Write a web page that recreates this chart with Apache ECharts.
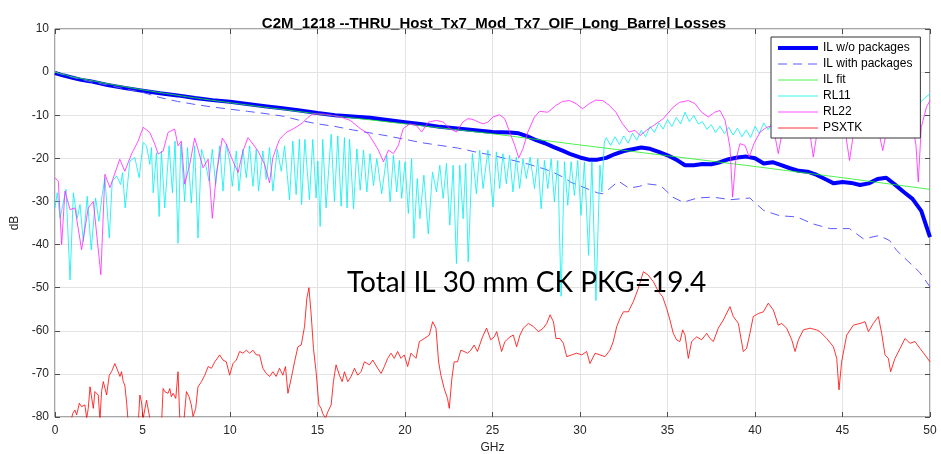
<!DOCTYPE html>
<html>
<head>
<meta charset="utf-8">
<script src="https://cdn.jsdelivr.net/npm/echarts@6/dist/echarts.min.js"></script>
<style>
  html, body { margin: 0; padding: 0; background: #fff; }
  #chart { width: 941px; height: 454px; }
</style>
</head>
<body>
<div id="chart"></div>
<script>
const titleText = 'C2M_1218 --THRU_Host_Tx7_Mod_Tx7_OIF_Long_Barrel Losses'
const noteText = 'Total IL 30 mm CK PKG=19.4'
const seriesNames = ['IL w/o packages', 'IL with packages', 'IL fit', 'RL11', 'RL22', 'PSXTK']

// [GHz, dB]
const ilNoPkg = [
  [0, -0.2], [0.5, -0.8], [1, -1.3], [1.5, -1.8], [2, -2.1], [3, -3.0], [4, -3.7], [5, -4.3],
  [6, -4.9], [7, -5.4], [8, -6.0], [9, -6.5], [10, -6.9], [11, -7.4], [12, -7.9], [13, -8.4],
  [14, -8.9], [15, -9.5], [16, -10.0], [17, -10.3], [18, -10.6], [19, -11.1], [20, -11.6],
  [21, -12.1], [22, -12.7], [23, -13.1], [24, -13.5], [25, -13.9], [26, -14.0], [26.5, -14.2],
  [27, -14.9], [27.5, -15.8], [28, -16.5], [28.5, -17.4], [29, -18.2], [29.5, -19.1], [30, -19.8],
  [30.5, -20.3], [31, -20.3], [31.5, -19.9], [32, -19.0], [32.5, -18.3], [33, -17.9], [33.5, -17.5],
  [34, -17.8], [34.5, -18.5], [35, -19.3], [35.5, -20.3], [36, -21.6], [36.5, -21.6], [37, -21.3],
  [37.5, -21.4], [38, -20.9], [38.5, -20.2], [39, -19.8], [39.5, -19.6], [40, -20.0], [40.5, -21.2],
  [41, -20.9], [41.5, -21.6], [42, -22.3], [42.5, -22.9], [43, -23.1], [43.5, -23.8], [44, -24.8],
  [44.5, -25.8], [45, -25.5], [45.5, -25.7], [46, -26.2], [46.5, -25.8], [47, -24.8], [47.5, -24.5],
  [48, -26.1], [48.5, -27.8], [49, -29.4], [49.5, -32.2], [50, -38.3]
]

const ilPkg = [
  [0, 0], [1, -1.2], [2, -2.2], [3, -3.0], [4, -3.9], [5, -4.7], [6, -5.9], [7, -6.8], [8, -7.5],
  [9, -8.1], [10, -8.6], [11, -9.1], [12, -9.6], [13, -10.2], [14, -11.2], [15, -12.0], [16, -12.6],
  [17, -13.4], [18, -14.1], [19, -14.8], [20, -15.6], [21, -16.4], [22, -17.0], [23, -17.6],
  [24, -18.5], [25, -19.3], [26, -20.3], [27, -21.3], [28, -22.5], [28.5, -23.3], [29, -24.3],
  [29.5, -25.6], [30, -26.4], [30.5, -27.2], [31, -28.0], [31.3, -28.2], [31.7, -27.0], [32.2, -25.3],
  [32.8, -26.9], [33.4, -26.5], [33.8, -25.9], [34.6, -26.3], [35.3, -29.0], [35.9, -30.2],
  [36.7, -29.2], [37.6, -29.0], [38.6, -29.6], [39.7, -29.2], [40.5, -32.1], [41.4, -33.3],
  [42.4, -33.6], [43.3, -35.2], [44.3, -36.3], [45.4, -36.3], [46.2, -38.7], [47.1, -37.9],
  [47.7, -39.1], [48.1, -41.4], [48.7, -43.7], [49.4, -46.4], [50, -49.8]
]

const ilFit = [
  [0, 0], [1, -1.1], [2, -1.9], [3, -2.7], [5, -4.1], [7.5, -5.7], [10, -7.1], [15, -9.7],
  [20, -12.0], [25, -14.3], [30, -16.9], [35, -19.4], [40, -21.9], [45, -24.5], [50, -27.2]
]

const rl11 = [
  [0, -31.5], [0.13, -28], [0.29, -33.9], [0.63, -27.2], [0.86, -48.2], [1.05, -28], [1.27, -33.9],
  [1.43, -30.7], [1.62, -39.3], [1.84, -28.8], [2.07, -41.2], [2.32, -29.2], [2.51, -34.6],
  [2.7, -28.4], [2.85, -24.5], [3.1, -38.5], [3.27, -25.3], [3.52, -24.1], [3.75, -26.1],
  [3.86, -23.3], [4.01, -31.5], [4.28, -20.6], [4.56, -19.8], [4.81, -24.5], [5.04, -16.3],
  [5.23, -17.1], [5.42, -21.4], [5.51, -17.5], [5.61, -28], [5.8, -18.7], [5.95, -33.5],
  [6.08, -18.3], [6.27, -31.5], [6.52, -17.1], [6.71, -28], [6.86, -16], [7.03, -39.7],
  [7.19, -16.7], [7.41, -30], [7.57, -17.5], [7.79, -30.4], [7.98, -17.1], [8.17, -38.5],
  [8.37, -17.9], [8.57, -20.6], [8.8, -25.3], [8.99, -17.9], [9.18, -26.1], [9.41, -17.1],
  [9.6, -27.6], [9.79, -16.7], [9.98, -20.6], [10.13, -26.5], [10.36, -18.3], [10.51, -27.6],
  [10.74, -17.9], [10.93, -24.5], [11.12, -17.1], [11.31, -26.5], [11.5, -17.9], [11.63, -27.6],
  [11.88, -18.3], [12.07, -24.9], [12.26, -17.5], [12.45, -27.6], [12.7, -17.9], [12.93, -23],
  [13.12, -17.1], [13.4, -29.6], [13.59, -16], [13.78, -28.4], [13.97, -15.6], [14.09, -30.7],
  [14.28, -15.6], [14.54, -29.6], [14.73, -15.6], [14.92, -29.2], [15.02, -20.6], [15.15, -35.8],
  [15.3, -15.6], [15.49, -31.5], [15.78, -14.4], [15.97, -30], [16.16, -14.8], [16.35, -31.1],
  [16.54, -15.2], [16.69, -31.5], [16.83, -15.6], [17.06, -31.7], [17.25, -17.8], [17.44, -27.4],
  [17.63, -18.1], [17.82, -27.8], [18.0, -18.9], [18.2, -26.3], [18.39, -20.1], [18.67, -28.2],
  [18.96, -19.3], [19.15, -30.1], [19.34, -19.3], [19.53, -27.8], [19.68, -20.5], [19.81, -29.3],
  [20.0, -20.8], [20.19, -32.8], [20.38, -20.1], [20.51, -38.6], [20.7, -24.7], [20.85, -34],
  [21.08, -23.9], [21.33, -37.5], [21.57, -23.2], [21.8, -27.8], [21.99, -21.6], [22.18, -29.3],
  [22.37, -21.2], [22.56, -35.5], [22.75, -21.6], [22.94, -44.4], [23.13, -21.6], [23.32, -34],
  [23.47, -21.2], [23.61, -44], [23.85, -18.9], [24.08, -28.2], [24.27, -18.1], [24.46, -27],
  [24.74, -18.1], [25.03, -31.3], [25.22, -18.5], [25.41, -27], [25.6, -18.9], [25.79, -25.9],
  [25.98, -19.3], [26.17, -27.8], [26.36, -19.7], [26.55, -27], [26.74, -20.1], [26.93, -24.7],
  [27.15, -19.7], [27.4, -27], [27.59, -20.1], [27.78, -31.7], [27.97, -20.5], [28.16, -27],
  [28.35, -20.1], [28.54, -30.1], [28.73, -20.5], [28.92, -52], [29.11, -20.8], [29.3, -30.9],
  [29.49, -20.8], [29.68, -28.6], [29.87, -20.5], [30.06, -33.2], [30.25, -20.8], [30.49, -42.5],
  [30.68, -20.8], [30.91, -53], [31.14, -21.6], [31.25, -27.8], [31.39, -16.2],
  [31.5, -15.2], [31.75, -17.0], [32.0, -15.0], [32.25, -16.8], [32.5, -14.8], [32.75, -16.5],
  [33.0, -14.2], [33.25, -15.8], [33.5, -13.5], [33.75, -15.0], [34.0, -12.6], [34.25, -14.0],
  [34.5, -11.8], [34.75, -13.2], [35.0, -11.0], [35.25, -12.6], [35.5, -10.5], [35.75, -12.0],
  [36.0, -9.3], [36.25, -11.5], [36.5, -10.0], [36.75, -12.0], [37.0, -11.5], [37.25, -13.3],
  [37.5, -12.2], [37.75, -14.0], [38.0, -12.5], [38.25, -14.3], [38.5, -12.8], [38.75, -14.6],
  [39.0, -13.0], [39.25, -15.0], [39.5, -13.4], [39.75, -15.2], [40.0, -12.6], [40.25, -14.2],
  [40.5, -11.8], [40.75, -13.4], [41.0, -11.5], [41.25, -13.0], [41.5, -11.2], [41.75, -12.8],
  [42.0, -11.0], [42.5, -12.4], [43.0, -10.8], [43.5, -12.0], [44.0, -10.5], [44.5, -11.8],
  [45.0, -10.2], [45.5, -11.4], [46.0, -10.0], [46.5, -11.0], [47.0, -9.6], [47.5, -10.8],
  [48.0, -9.2], [48.5, -10.2], [49.0, -8.6], [49.4, -7.2], [49.7, -6.0], [50, -5.0]
]

const rl22 = [
  [0, -24.5], [0.19, -25.3], [0.38, -40], [0.57, -27.6], [0.86, -31.9], [1.14, -31.5], [1.52, -41.2],
  [1.9, -31.5], [2.19, -30], [2.62, -47], [2.85, -23.7], [3.14, -26.8], [3.7, -20.2], [3.99, -23],
  [4.37, -19], [4.75, -16], [5.04, -12.8], [5.42, -14], [5.7, -16.7], [5.9, -19], [6.18, -18.3],
  [6.46, -14], [6.84, -13.2], [7.03, -17.1], [7.22, -16], [7.41, -26], [7.7, -21.4], [7.98, -15.3],
  [8.17, -17.9], [8.46, -22.2], [8.75, -20.2], [8.99, -33.9], [9.22, -23.7], [9.56, -15.3],
  [9.79, -16.7], [10.08, -19.8], [10.46, -23.3], [10.74, -18.3], [11.03, -15.2], [11.31, -16.7],
  [11.6, -18.3], [11.98, -21.4], [12.26, -25.7], [12.45, -19.8], [12.83, -15.6], [13.21, -14],
  [13.59, -13.2], [13.88, -12.5], [14.16, -11.7], [14.45, -10.5], [14.73, -9.7], [15.3, -9.7],
  [15.8, -10.0], [16.3, -10.4], [16.87, -11.2], [17.44, -13.1], [17.9, -14.3], [18.2, -16.2],
  [18.48, -18.1], [18.77, -20.8], [19.05, -18.1], [19.34, -18.9], [19.62, -17], [19.9, -13.1],
  [20.28, -12], [20.66, -12.4], [20.95, -13.9], [21.33, -11.6], [21.8, -11.2], [22.2, -11.6],
  [22.56, -13.1], [22.94, -13.9], [23.3, -11.6], [23.6, -10.8], [23.9, -11], [24.2, -11.6],
  [24.46, -12], [24.74, -11.6], [25.03, -10.4], [25.4, -9.9], [25.7, -10.8], [25.98, -13.9],
  [26.27, -17], [26.5, -19.9], [26.74, -17.8], [27.02, -13.9], [27.4, -10.4], [27.69, -9.1],
  [28.16, -9.3], [28.64, -7.7], [29.0, -6.8], [29.4, -6.6], [29.77, -7.3], [30.15, -8.5],
  [30.53, -7.3], [30.9, -6.5], [31.3, -6.6], [31.67, -7.7], [32.05, -9.3], [32.43, -12],
  [32.8, -13.9], [33.14, -13.5], [33.43, -14.7], [33.8, -13.5], [34.2, -12.4], [34.76, -10.8],
  [35.33, -8.1], [35.7, -7], [36.2, -6.6], [36.57, -7.3], [36.95, -9.3], [37.33, -10.4],
  [37.7, -9.3], [38.0, -8.9], [38.29, -11.2], [38.57, -17.4], [38.72, -29], [38.9, -20.5],
  [39.14, -16.6], [39.43, -17], [39.67, -19.7], [39.94, -16.6], [40.29, -13.9], [40.67, -12.8],
  [40.95, -12.5], [41.15, -15], [41.33, -18.9], [41.55, -14], [41.9, -10.5], [42.4, -9.5],
  [42.9, -11], [43.15, -14.5], [43.33, -19.7], [43.55, -14], [43.9, -10.5], [44.4, -9.8],
  [44.9, -11.5], [45.2, -15], [45.4, -20.5], [45.6, -15], [46.0, -11], [46.5, -10.2], [47.0, -12.5],
  [47.3, -18.2], [47.55, -13], [48.0, -10], [48.5, -9.5], [49.0, -12], [49.2, -17], [49.33, -25.5],
  [49.5, -12.8], [49.8, -8.1], [50, -6.6]
]

const psxtk = [
  [0, -83], [0.48, -85], [0.86, -82], [1.01, -79.2], [1.14, -78.4], [1.24, -79.5], [1.39, -76.8],
  [1.52, -77.6], [1.62, -78], [1.71, -77.2], [1.81, -80.3], [1.9, -78], [2.0, -73], [2.09, -72.6],
  [2.19, -78], [2.28, -74.1], [2.38, -73.7], [2.47, -74.9], [2.57, -80.7], [2.66, -74.1],
  [2.76, -71.8], [2.85, -71.4], [2.95, -74.9], [3.1, -70.3], [3.23, -69.5], [3.42, -67.6],
  [3.57, -69.1], [3.71, -70.6], [3.8, -69.5], [3.9, -71.8], [3.99, -72.6], [4.09, -76.5],
  [4.18, -81.1], [4.47, -84], [4.75, -82], [4.85, -74.9], [4.94, -76.5], [5.04, -80.3],
  [5.23, -76.1], [5.32, -76.5], [5.42, -80.3], [5.61, -83], [6.08, -82], [6.18, -73.4],
  [6.27, -74.1], [6.37, -73.7], [6.46, -74.5], [6.56, -73.4], [6.65, -75.3], [6.75, -74.5],
  [6.9, -75.7], [7.03, -69.5], [7.13, -80.3], [7.32, -83], [7.51, -74.1], [7.66, -75.3],
  [7.79, -77.2], [7.89, -79.9], [8.04, -78], [8.17, -73], [8.37, -71.8], [8.56, -70.3],
  [8.75, -68.3], [8.94, -68.7], [9.13, -67.2], [9.41, -65.6], [9.6, -66.8], [9.79, -67.2],
  [9.98, -70.3], [10.17, -67.6], [10.36, -66.8], [10.55, -64.8], [10.74, -65.2], [10.93, -64.5],
  [11.12, -65.2], [11.31, -64.5], [11.5, -65.6], [11.69, -65.6], [11.88, -68.7], [12.07, -69.9],
  [12.26, -70.6], [12.45, -69.5], [12.64, -70.6], [12.83, -68.7], [13.02, -70.3], [13.17, -68.3],
  [13.31, -74.5], [13.5, -71], [13.69, -67.2], [13.88, -63.7], [14.07, -63.3], [14.26, -59],
  [14.39, -52.5], [14.51, -50], [14.64, -56.3], [14.77, -64.1], [14.92, -69.5], [15.08, -77.2],
  [15.21, -78], [15.3, -79.2], [15.46, -80.3], [15.59, -78.8], [15.78, -77.2], [15.91, -71.8],
  [16.06, -67.9], [16.25, -70.3], [16.41, -71.8], [16.54, -69.5], [16.73, -71.8], [16.92, -70.6],
  [17.11, -68.7], [17.3, -70.3], [17.49, -69.5], [17.68, -67.2], [17.97, -67.9], [18.16, -66.8],
  [18.44, -68.7], [18.63, -69.9], [18.82, -68.3], [19.01, -66.4], [19.2, -65.2], [19.39, -66.4],
  [19.58, -64.8], [19.77, -66.4], [19.96, -65.6], [20.15, -68.3], [20.34, -65.2], [20.63, -66.4],
  [20.82, -62.5], [21.1, -61.8], [21.39, -61], [21.58, -57.9], [21.77, -59.4], [21.92, -67.2],
  [22.05, -70.3], [22.24, -73.4], [22.43, -75.7], [22.53, -78], [22.68, -71], [22.81, -67.2],
  [23.0, -67.2], [23.19, -64.5], [23.38, -64.8], [23.57, -65.2], [23.76, -64.5], [23.95, -63.3],
  [24.14, -64.8], [24.43, -61.4], [24.66, -59.4], [24.9, -62.1], [25.1, -61.4], [25.24, -60.2],
  [25.52, -64.8], [25.71, -62.5], [26.0, -61.4], [26.19, -61], [26.38, -63.7], [26.57, -61],
  [26.76, -59.4], [27.05, -58.3], [27.33, -59], [27.62, -60.2], [27.9, -59.4], [28.1, -58.3],
  [28.29, -56.3], [28.48, -57.9], [28.63, -61.8], [28.86, -61.8], [29.05, -62.9], [29.24, -66],
  [29.52, -65.6], [29.81, -65.2], [30.1, -65.6], [30.38, -64.8], [30.57, -67.6], [30.86, -65.2],
  [31.14, -65.6], [31.43, -66], [31.71, -64.5], [31.9, -62.5], [32.1, -59], [32.29, -57.1],
  [32.48, -55.6], [32.76, -55.6], [33.05, -53.2], [33.33, -50.2], [33.62, -46.3], [33.9, -47.1],
  [34.19, -48.6], [34.48, -50.9], [34.72, -52.1], [34.95, -54.8], [35.14, -57.5], [35.33, -60.6],
  [35.52, -62.1], [35.71, -62.5], [35.87, -59.8], [36.0, -61], [36.19, -66.4], [36.38, -62.5],
  [36.67, -61.4], [36.95, -62.1], [37.24, -60.6], [37.43, -61.8], [37.62, -62.5], [37.9, -59.4],
  [38.19, -57.5], [38.57, -54.4], [38.76, -56.7], [39.05, -58.3], [39.33, -64.8], [39.52, -64.1],
  [39.71, -60.6], [39.9, -56.7], [40.19, -56], [40.48, -55.6], [40.76, -53.6], [41.05, -55.2],
  [41.33, -58.7], [41.52, -58.3], [41.81, -59.4], [42.1, -62.1], [42.29, -64.8], [42.48, -62.1],
  [42.76, -59.8], [43.14, -59.4], [43.52, -59.8], [43.71, -60.2], [44.1, -61.8], [44.48, -63.7],
  [44.67, -66.4], [44.8, -73.7], [44.95, -67.2], [45.24, -61], [45.62, -58.7], [46.0, -58.3],
  [46.29, -57.9], [46.48, -60.2], [46.76, -58.3], [47.05, -56.7], [47.24, -60.6], [47.43, -65.6],
  [47.62, -66.4], [47.75, -69.5], [48.0, -66.4], [48.29, -64.1], [48.57, -61.8], [48.86, -62.9],
  [49.14, -62.5], [49.43, -64.1], [49.71, -65.6], [50.0, -67.2]
]

const lineSeries = (name, data, color, width, type) => ({
  name: name,
  type: 'line',
  data: data,
  symbol: 'none',
  smooth: false,
  lineStyle: { color: color, width: width, type: type || 'solid' },
  itemStyle: { color: color },
  emphasis: { disabled: true }
})

const axisFont = { fontFamily: 'Liberation Sans', fontSize: 12, color: '#262626' }
const tickStyle = { inside: true, length: 5, lineStyle: { color: '#4d4d4d' } }

const chart = echarts.init(document.getElementById('chart'))
chart.setOption({
  animation: false,
  title: {
    text: titleText,
    left: 489,
    top: 11,
    textAlign: 'center',
    textStyle: { fontFamily: 'Liberation Sans', fontSize: 15, fontWeight: 'bold', color: '#000' }
  },
  grid: {
    left: 55, right: 11, top: 29, bottom: 37,
    outerBoundsMode: 'none',
    show: true, borderColor: '#4d4d4d', borderWidth: 1
  },
  legend: {
    data: seriesNames,
    orient: 'vertical',
    left: 771,
    top: 37,
    z: 10,
    padding: [5, 8, 4, 5],
    itemWidth: 40,
    itemHeight: 10,
    itemGap: 4,
    backgroundColor: '#fff',
    borderColor: '#333',
    borderWidth: 1,
    itemStyle: { opacity: 0 },
    lineStyle: { width: 'inherit' },
    textStyle: { fontFamily: 'Liberation Sans', fontSize: 12, color: '#000' }
  },
  xAxis: [{
    type: 'value', min: 0, max: 50, interval: 5,
    name: 'GHz', nameLocation: 'middle', nameGap: 22,
    nameTextStyle: axisFont,
    axisLine: { show: false, onZero: false },
    axisTick: tickStyle,
    axisLabel: Object.assign({ margin: 8 }, axisFont),
    splitLine: { lineStyle: { color: '#e3e3e3' } }
  }, {
    type: 'value', min: 0, max: 50, interval: 5, position: 'top',
    axisLine: { show: false, onZero: false },
    axisTick: tickStyle,
    axisLabel: { show: false },
    splitLine: { show: false }
  }],
  yAxis: [{
    type: 'value', min: -80, max: 10, interval: 10,
    name: 'dB', nameLocation: 'middle', nameGap: 22, nameRotate: 90,
    nameTextStyle: axisFont,
    axisLine: { show: false, onZero: false },
    axisTick: tickStyle,
    axisLabel: Object.assign({ margin: 6 }, axisFont),
    splitLine: { lineStyle: { color: '#e3e3e3' } }
  }, {
    type: 'value', min: -80, max: 10, interval: 10, position: 'right',
    axisLine: { show: false, onZero: false },
    axisTick: tickStyle,
    axisLabel: { show: false },
    splitLine: { show: false }
  }],
  graphic: [{
    type: 'text',
    left: 347,
    top: 269,
    z: 5,
    style: { text: noteText, font: '28px Lato', fill: '#000' }
  }],
  series: [
    lineSeries(seriesNames[0], ilNoPkg, '#0000ff', 4),
    lineSeries(seriesNames[1], ilPkg, '#5b5bff', 1, [9, 6]),
    lineSeries(seriesNames[2], ilFit, '#22ee22', 0.8),
    lineSeries(seriesNames[3], rl11, '#00f0f0', 0.8),
    lineSeries(seriesNames[4], rl22, '#ff22ff', 0.8),
    lineSeries(seriesNames[5], psxtk, '#ff0000', 0.8)
  ]
})
</script>
</body>
</html>
